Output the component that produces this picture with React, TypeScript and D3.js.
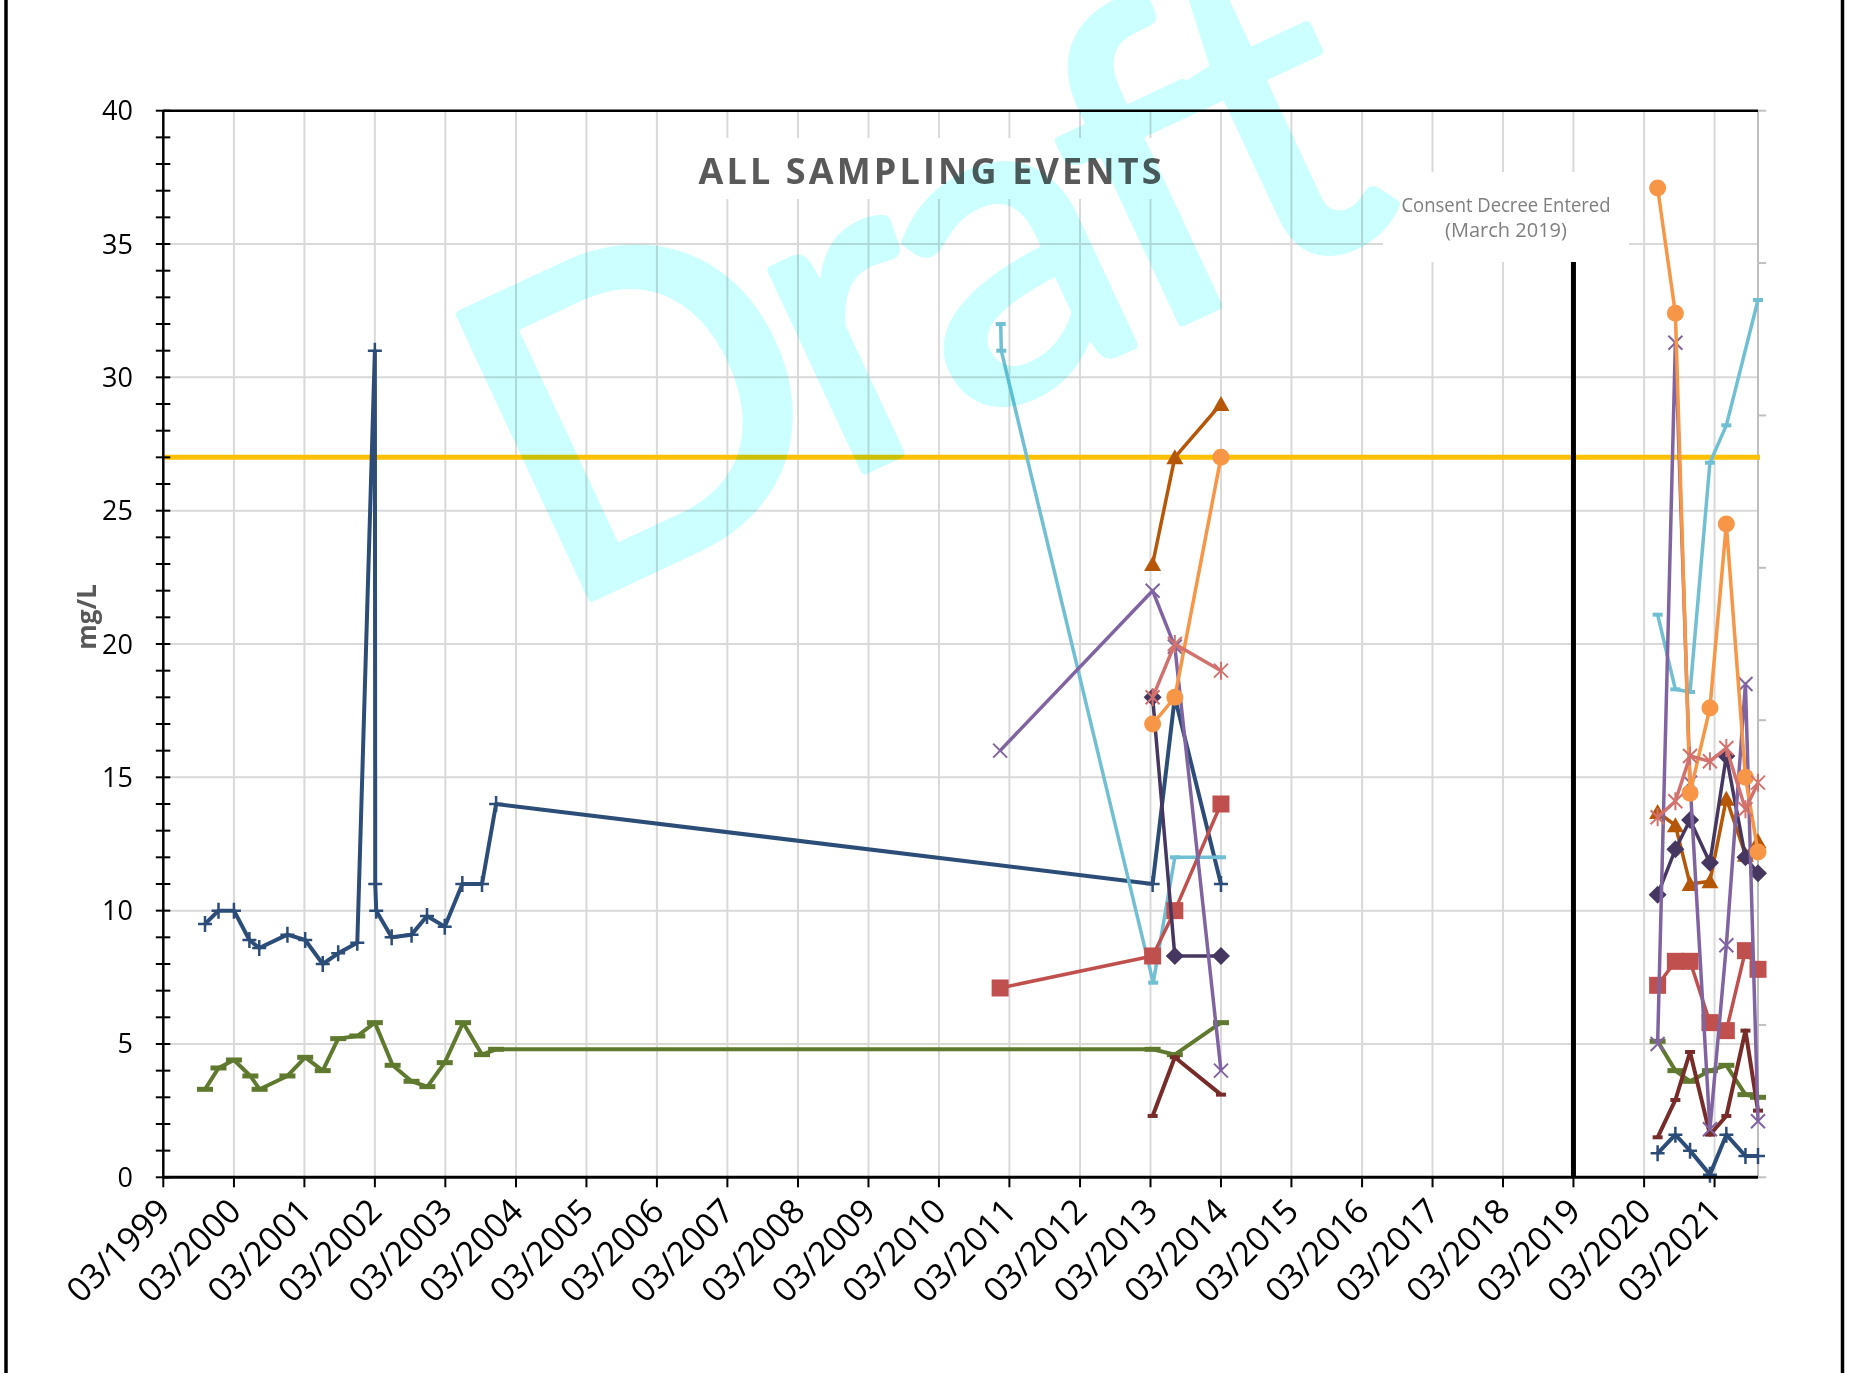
import React from 'react';
import * as d3 from 'd3';

const W = 1853;
const H = 1373;

// tick labels
const xTickLabels = d3.range(1999, 2022).map((yr) => `03/${yr}`);
const yTickValues = [0, 5, 10, 15, 20, 25, 30, 35, 40];

// sampling dates
const dates2013 = ['2013-03-12', '2013-07-05', '2014-03-01'];
const dates2020 = ['2020-05-10', '2020-08-10', '2020-10-25', '2021-02-05', '2021-05-01', '2021-08-08', '2021-10-12'];

const navyDates = ['1999-10-03', '1999-12-12', '2000-03-01', '2000-05-20', '2000-07-10', '2000-12-03', '2001-03-05', '2001-06-04', '2001-08-23', '2001-11-30', '2002-03-01', '2002-03-03', '2002-03-08', '2002-05-27', '2002-09-07', '2002-11-26', '2003-02-26', '2003-05-28', '2003-09-07', '2003-11-19'];
const navyEarly = [9.5, 10, 10, 8.9, 8.6, 9.1, 8.9, 8.0, 8.4, 8.8, 31, 11, 10, 9.0, 9.1, 9.8, 9.4, 11, 11, 14];
const navy2013 = [11, 18, 11];
const navy2020 = [0.9, 1.6, 1.0, 0.1, 1.6, 0.8, 0.8];

const oliveDates = ['1999-10-03', '1999-12-12', '2000-03-01', '2000-05-25', '2000-07-12', '2000-12-03', '2001-03-05', '2001-06-04', '2001-08-23', '2001-11-30', '2002-03-01', '2002-06-01', '2002-09-07', '2002-11-28', '2003-02-26', '2003-06-01', '2003-09-07', '2003-11-19'];
const oliveEarly = [3.3, 4.1, 4.4, 3.8, 3.3, 3.8, 4.5, 4.0, 5.2, 5.3, 5.8, 4.2, 3.6, 3.4, 4.3, 5.8, 4.6, 4.8];
const olive2013 = [4.8, 4.6, 5.8];
const olive2020 = [5.1, 4.0, 3.6, 4.0, 4.2, 3.1, 3.0];

const cyanDates = ['2011-01-15', '2011-01-18', '2013-03-15', '2013-07-05', '2014-03-01'];
const cyanEarly = [32, 31, 7.3, 12, 12];
const cyanDates2020 = ['2020-05-10', '2020-08-10', '2020-10-25', '2021-02-05', '2021-05-01', '2021-10-12'];
const cyan2020 = [21.1, 18.3, 18.2, 26.8, 28.2, 32.9];

const dates2011 = ['2011-01-12', ...dates2013];
const purpleEarly = [16.0, 22.0, 19.9, 4.0];
const purple2020 = [5.0, 31.3, 14.8, 1.8, 8.7, 18.5, 2.1];

const redEarly = [7.1, 8.3, 10.0, 14.0];
const red2020 = [7.2, 8.1, 8.1, 5.8, 5.5, 8.5, 7.8];

const pink2013 = [18, 20, 19];
const pink2020 = [13.5, 14.1, 15.8, 15.6, 16.1, 13.8, 14.8];

const orange2013 = [17, 18, 27];
const orange2020 = [37.1, 32.4, 14.4, 17.6, 24.5, 15.0, 12.2];

const brown2013 = [23, 27, 29];
const brown2020 = [13.7, 13.2, 11.0, 11.1, 14.2, 12.1, 12.6];

const plum2013 = [18, 8.3, 8.3];
const plum2020 = [10.6, 12.3, 13.4, 11.8, 15.8, 12.0, 11.4];

const maroon2013 = [2.3, 4.5, 3.1];
const maroon2020 = [1.5, 2.9, 4.7, 1.6, 2.3, 5.5, 2.5];

const limitValue = 27;
const decreeDate = '2019-03-01';

type Pt = { d: Date | null; v: number | null };
const parse = d3.timeParse('%Y-%m-%d');

// each segment is a run of connected points; a gap goes between segments
const build = (...segs: [string[], number[]][]): Pt[] =>
  segs.flatMap((s, i) => [
    ...(i ? [{ d: null, v: null }] : []),
    ...s[0].map((d, j) => ({ d: parse(d), v: s[1][j] })),
  ]);

const series = [
  { id: 'navy', color: '#2c4d78', width: 4, marker: 'plus', pts: build([[...navyDates, ...dates2013], [...navyEarly, ...navy2013]], [dates2020, navy2020]) },
  { id: 'olive', color: '#5f7a2f', width: 4, marker: 'dashBig', pts: build([[...oliveDates, ...dates2013], [...oliveEarly, ...olive2013]], [dates2020, olive2020]) },
  { id: 'cyan', color: '#70bfd3', width: 3.5, marker: 'dash', pts: build([cyanDates, cyanEarly], [cyanDates2020, cyan2020]) },
  { id: 'maroon', color: '#772c2a', width: 4, marker: 'dash', pts: build([dates2013, maroon2013], [dates2020, maroon2020]) },
  { id: 'red', color: '#c0504d', width: 3.5, marker: 'square', pts: build([dates2011, redEarly], [dates2020, red2020]) },
  { id: 'brown', color: '#b65708', width: 3.5, marker: 'triangle', pts: build([dates2013, brown2013], [dates2020, brown2020]) },
  { id: 'plum', color: '#463760', width: 3.5, marker: 'diamond', pts: build([dates2013, plum2013], [dates2020, plum2020]) },
  { id: 'purple', color: '#8064a2', width: 3.5, marker: 'x', pts: build([dates2011, purpleEarly], [dates2020, purple2020]) },
  { id: 'orange', color: '#f79646', width: 3.5, marker: 'circle', pts: build([dates2013, orange2013], [dates2020, orange2020]) },
  { id: 'pink', color: '#d2726e', width: 3.5, marker: 'star', pts: build([dates2013, pink2013], [dates2020, pink2020]) },
];

const left = 163.3;
const right = 1758;
const top = 110.7;
const bottom = 1177.3;

const x = d3.scaleTime().domain([parse('1999-03-01')!, parse('2021-10-12')!]).range([left, right]);
const y = d3.scaleLinear().domain([0, 40]).range([bottom, top]);

const Marker = ({ type, color, cx, cy }) => {
  const t = `translate(${cx},${cy})`;
  switch (type) {
    case 'plus':
      return <path transform={t} d="M-7,0H7M0,-8V8" stroke={color} strokeWidth={2.5} fill="none" />;
    case 'x':
      return <path transform={t} d="M-7,-7L7,7M-7,7L7,-7" stroke={color} strokeWidth={2} fill="none" />;
    case 'star':
      return <path transform={t} d="M-7,-7L7,7M-7,7L7,-7M0,-9V9" stroke={color} strokeWidth={2} fill="none" />;
    case 'dashBig':
      return <rect transform={t} x={-8} y={-2.5} width={16} height={5} fill={color} />;
    case 'dash':
      return <rect transform={t} x={-5} y={-2} width={10} height={4} fill={color} />;
    case 'square':
      return <rect transform={t} x={-8.5} y={-8.5} width={17} height={17} fill={color} />;
    case 'diamond':
      return <path transform={t} d="M0,-9L9,0L0,9L-9,0Z" fill={color} />;
    case 'triangle':
      return <path transform={t} d="M0,-8L8.5,7L-8.5,7Z" fill={color} />;
    case 'circle':
      return <circle cx={cx} cy={cy} r={8.5} fill={color} />;
    default:
      return null;
  }
};

export default function App() {
  const yearTicks = xTickLabels.map((lbl) => {
    const [m, yr] = lbl.split('/');
    return { lbl, px: x(new Date(+yr, +m - 1, 1)) };
  });
  const minor = d3.range(0, 41);
  const rightTicks = d3.range(0, 8).map((k) => bottom - (k * (bottom - top)) / 7);
  const line = d3
    .line<Pt>()
    .defined((p) => p.v != null)
    .x((p) => x(p.d as Date))
    .y((p) => y(p.v as number));
  const decreeX = x(parse(decreeDate)!);
  const font = "'Open Sans', sans-serif";

  return (
    <svg width={W} height={H} style={{ position: 'absolute', left: 0, top: 0 }} fontFamily={font}>
      <rect width={W} height={H} fill="#fff" />

      {/* gridlines */}
      {yearTicks.slice(1).map((t) => (
        <line key={t.lbl} x1={t.px} x2={t.px} y1={top} y2={bottom} stroke="#d9d9d9" strokeWidth={2} />
      ))}
      {yTickValues.slice(1, -1).map((v) => (
        <line key={v} x1={left} x2={right} y1={y(v)} y2={y(v)} stroke="#d9d9d9" strokeWidth={2} />
      ))}

      {/* boxes behind title and note */}
      <rect x={668} y={138} width={524} height={61} fill="#fff" />
      <rect x={1383} y={172} width={246} height={90} fill="#fff" />

      {/* right secondary axis */}
      <line x1={right} x2={right} y1={top} y2={bottom} stroke="#bfbfbf" strokeWidth={2} />
      {rightTicks.map((ty, i) => (
        <line key={i} x1={right} x2={right + 8} y1={ty} y2={ty} stroke="#bfbfbf" strokeWidth={2} />
      ))}

      {/* limit line */}
      <line x1={left} x2={right + 2} y1={y(limitValue)} y2={y(limitValue)} stroke="#ffc000" strokeWidth={5} />

      {/* consent decree */}
      <line x1={decreeX} x2={decreeX} y1={262} y2={bottom} stroke="#000" strokeWidth={5} />
      <text x={1506} y={211.5} textAnchor="middle" fontSize={20} fill="#7f7f7f" textLength={209} lengthAdjust="spacingAndGlyphs">
        Consent Decree Entered
      </text>
      <text x={1506} y={237} textAnchor="middle" fontSize={20} fill="#7f7f7f">
        (March 2019)
      </text>

      {/* title */}
      <text x={930} y={184} textAnchor="middle" fontSize={36} fontWeight={700} fill="#595959" textLength={463} lengthAdjust="spacing">
        ALL SAMPLING EVENTS
      </text>

      {/* series */}
      {series.map((s) => (
        <g key={s.id}>
          <path d={line(s.pts) || ''} fill="none" stroke={s.color} strokeWidth={s.width} strokeLinejoin="round" />
          {s.pts
            .filter((p) => p.v != null)
            .map((p, i) => (
              <Marker key={i} type={s.marker} color={s.color} cx={x(p.d as Date)} cy={y(p.v as number)} />
            ))}
        </g>
      ))}

      {/* axes */}
      <line x1={left} x2={right} y1={top} y2={top} stroke="#000" strokeWidth={2.5} />
      <line x1={left} x2={left} y1={top} y2={bottom} stroke="#000" strokeWidth={2.5} />
      {minor.map((v) => (
        <line key={v} x1={left - 7.5} x2={left + 7} y1={y(v)} y2={y(v)} stroke="#000" strokeWidth={2} />
      ))}
      {yTickValues.map((v) => (
        <text key={v} x={133} y={y(v) + 9.5} textAnchor="end" fontSize={27} fill="#000">
          {v}
        </text>
      ))}
      <line x1={left - 1} x2={right} y1={bottom} y2={bottom} stroke="#000" strokeWidth={3} />
      {yearTicks.map((t) => (
        <g key={t.lbl}>
          <line x1={t.px} x2={t.px} y1={bottom} y2={bottom + 10} stroke="#000" strokeWidth={2} />
          <text
            transform={`translate(${t.px + 9},${bottom + 36}) rotate(-45)`}
            textAnchor="end"
            fontSize={34}
            fill="#000"
          >
            {t.lbl}
          </text>
        </g>
      ))}

      <text transform="translate(96,617) rotate(-90)" textAnchor="middle" fontSize={26} fontWeight={700} fill="#595959">
        mg/L
      </text>

      {/* watermark */}
      <text
        transform="translate(556,614) rotate(-25)"
        fontFamily="Lato, sans-serif"
        fontSize={435}
        letterSpacing={-16}
        fill="#ccffff"
        stroke="#ccffff"
        strokeWidth={9}
        strokeLinejoin="round"
        style={{ mixBlendMode: 'multiply' }}
      >
        Draft
      </text>

      {/* page frame */}
      <line x1={6} x2={6} y1={0} y2={H} stroke="#000" strokeWidth={3.5} />
      <line x1={1842.5} x2={1842.5} y1={0} y2={H} stroke="#000" strokeWidth={3.5} />
    </svg>
  );
}
